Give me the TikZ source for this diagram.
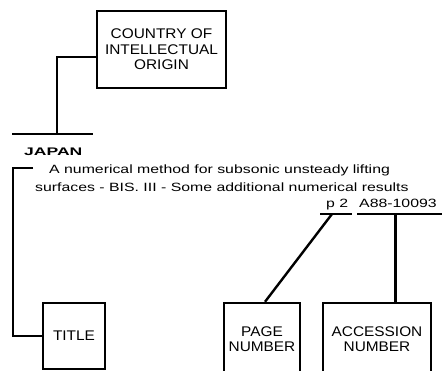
\documentclass[tikz,border=0pt]{standalone}
\usepackage{fontspec}
\usepackage{graphicx}
\setmainfont{Liberation Sans}[FakeStretch=1.1]
\newfontfamily\bodyfont{Liberation Sans}[FakeStretch=1.32]
\usetikzlibrary{positioning}

\tikzset{
  box/.style={draw, line width=2.4pt, align=center, font=\fontsize{14}{15.5}\selectfont, inner sep=0pt},
  rule/.style={line width=2.4pt},
  txt/.style={inner sep=0pt, anchor=base west, font=\bodyfont\fontsize{12}{14}\selectfont}
}

\begin{document}
\begin{tikzpicture}[x=1pt, y=-1pt]

    % Frame of the picture
    \useasboundingbox (0,0) rectangle (442,370);
    \clip (0,0) rectangle (442,370);

    % Country box
    \node[box, minimum width=129pt, minimum height=77pt] (country) at (161.5,49.5) {COUNTRY OF\\INTELLECTUAL\\ORIGIN};

    % Japan
    \coordinate (jpl) at (12,134);
    \coordinate (jpr) at (93,134);
    \coordinate (jpm) at (57,134);
    \draw[rule] (jpl) -- (jpr);
    \node[txt, font=\fontsize{11}{12}\selectfont\bfseries] (japan) at (24,155) {\scalebox{1.45}[1]{JAPAN}};
    \draw[rule] ([yshift=-7.5pt]country.west) -| (jpm);

    % Title text
    \node[txt] (line1) at (49,173) {A numerical method for subsonic unsteady lifting};
    \node[txt] (line2) at (35,191) {surfaces - BIS. III - Some additional numerical results};
    \node[txt] (page) at (326,207) {p 2};
    \node[txt] (accno) at (359,207) {A88-10093};

    % Underlines
    \coordinate (pl) at (320,214);
    \coordinate (pr) at (352,214);
    \coordinate (pm) at (332,214);
    \coordinate (al) at (357,214);
    \coordinate (ar) at (442,214);
    \coordinate (am) at (395.5,214);
    \draw[rule] (pl) -- (pr);
    \draw[rule] (al) -- (ar);

    % Bottom boxes
    \node[box, minimum width=62pt, minimum height=66pt] (title) at (74,336) {TITLE};
    \node[box, minimum width=76pt, minimum height=72pt] (pagebox) at (262,339) {PAGE\\NUMBER};
    \node[box, minimum width=108pt, minimum height=72pt] (accbox) at (377,339) {ACCESSION\\NUMBER};

    % Connectors
    \coordinate (brk) at (33,168);
    \draw[rule] (brk) -- ++(-20,0) |- (title.west);
    \draw[rule] (pm) -- ([xshift=3pt]pagebox.north);
    \draw[rule] (am) -- (am |- accbox.north);

\end{tikzpicture}
\end{document}
